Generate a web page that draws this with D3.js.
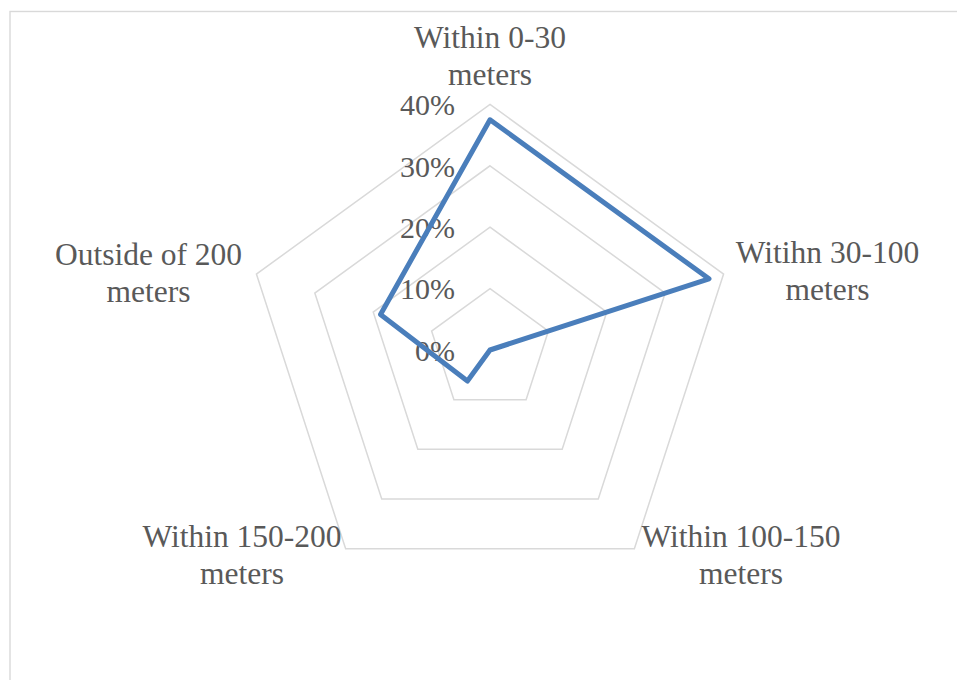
<!DOCTYPE html>
<html>
<head>
<meta charset="utf-8">
<script src="https://cdn.jsdelivr.net/npm/d3@7"></script>
<style>
  html, body { margin: 0; padding: 0; background: #ffffff; }
  svg { display: block; }
  text { font-family: "Liberation Serif", "Times New Roman", serif; fill: #595959; }
</style>
</head>
<body>
<svg id="chart" width="957" height="680"></svg>
<script>
// Distance bands (one spoke each, clockwise from the top)
const categories = [
  ["Within 0-30", "meters"],
  ["Witihn 30-100", "meters"],
  ["Within 100-150", "meters"],
  ["Within 150-200", "meters"],
  ["Outside of 200", "meters"]
];
// Share of responses in each band
const shares = [0.375, 0.375, 0.0, 0.0625, 0.1875];
// Radial axis ticks
const tickValues = [0, 0.1, 0.2, 0.3, 0.4];

const svg = d3.select("#chart");
const cx = 490, cy = 350, radius = 245.6;

// Chart area frame
svg.append("rect")
  .attr("x", 10).attr("y", 11.5)
  .attr("width", 1000).attr("height", 1000)
  .attr("fill", "none")
  .attr("stroke", "#d9d9d9")
  .attr("stroke-width", 1.4);

const r = d3.scaleLinear().domain([0, 0.4]).range([0, radius]);
const angle = d3.scaleLinear().domain([0, categories.length]).range([0, 2 * Math.PI]);

const g = svg.append("g").attr("transform", `translate(${cx},${cy})`);

const pt = (i, v) => [Math.sin(angle(i)) * r(v), -Math.cos(angle(i)) * r(v)];

// Pentagonal grid rings
const ringLine = d3.line().curve(d3.curveLinearClosed);
g.selectAll("path.ring")
  .data(tickValues.filter(t => t > 0))
  .join("path")
  .attr("class", "ring")
  .attr("d", t => ringLine(categories.map((_, i) => pt(i, t))))
  .attr("fill", "none")
  .attr("stroke", "#d9d9d9")
  .attr("stroke-width", 1.5);

// Tick labels along the top spoke
const fmt = d3.format(".0%");
g.selectAll("text.tick")
  .data(tickValues)
  .join("text")
  .attr("class", "tick")
  .attr("x", -35)
  .attr("y", t => -r(t))
  .attr("dy", "0.36em")
  .attr("text-anchor", "end")
  .attr("font-size", 30)
  .text(fmt);

// Data series
const seriesLine = d3.line().curve(d3.curveLinearClosed);
g.append("path")
  .attr("d", seriesLine(shares.map((v, i) => pt(i, v))))
  .attr("fill", "none")
  .attr("stroke", "#4a7ebb")
  .attr("stroke-width", 5)
  .attr("stroke-linejoin", "round");

// Category labels (first-line baseline offsets from the centre)
const labelPos = [
  [0, -302],
  [337.5, -87],
  [251, 197],
  [-248, 197],
  [-341.5, -85]
];
const labels = g.selectAll("text.cat")
  .data(categories)
  .join("text")
  .attr("class", "cat")
  .attr("text-anchor", "middle")
  .attr("font-size", 31.5)
  .attr("transform", (d, i) => `translate(${labelPos[i][0]},${labelPos[i][1]})`);
labels.selectAll("tspan")
  .data(d => d)
  .join("tspan")
  .attr("x", 0)
  .attr("dy", (d, j) => j === 0 ? 0 : 37)
  .text(d => d);
</script>
</body>
</html>
